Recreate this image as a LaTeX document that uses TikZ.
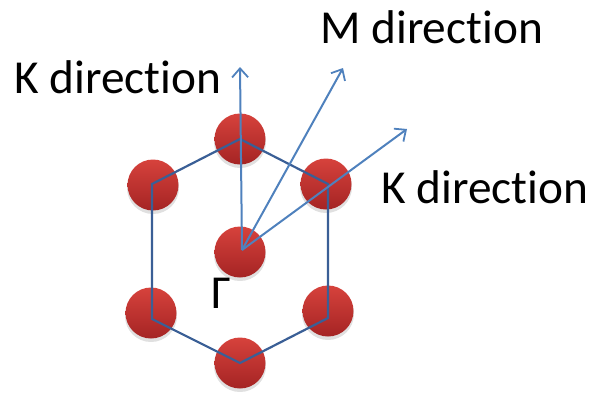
\documentclass[tikz,border=0pt]{standalone}
\usepackage{fontspec}
\setmainfont[RawFeature={-liga;-clig}]{Carlito}
\usetikzlibrary{arrows.meta}
\definecolor{ballhi}{RGB}{214,66,60}
\definecolor{balllo}{RGB}{165,36,36}
\definecolor{hexblue}{RGB}{58,95,150}
\definecolor{arrblue}{RGB}{79,129,189}
\tikzset{
  atom/.style={circle,minimum size=50bp,inner sep=0pt},
  hexline/.style={draw=hexblue,line width=2.2bp,line join=miter},
  dirarrow/.style={draw=arrblue,line width=2bp,-{Straight Barb[length=9bp,width=16bp,line width=1.8bp]}},
  lbl/.style={font=\fontsize{47.5}{56}\selectfont,inner sep=0pt,anchor=base west}
}
\begin{document}
\begin{tikzpicture}[x=1bp,y=-1bp]
\useasboundingbox (0,0) rectangle (597,392);
% atoms
\foreach \n/\x/\y in {t/240/139,ur/326/184,lr/328/311,b/240/363,ll/151/313,ul/153/185,c/240/252}{
  \fill[black,opacity=0.12] (\x,\y+3) circle (26bp);
  \shade[top color=ballhi,bottom color=balllo] (\x,\y) circle (25.5bp);
  \node[atom] (\n) at (\x,\y) {};
}
% hexagon
\coordinate (h1) at (240,139);
\coordinate (h2) at (328,184);
\coordinate (h3) at (328,318);
\coordinate (h4) at (240,363);
\coordinate (h5) at (152,319);
\coordinate (h6) at (152,184);
\draw[hexline] (h1) -- (h2) -- (h3) -- (h4) -- (h5) -- (h6) -- cycle;
% arrows
\coordinate (o) at (242,250);
\coordinate (kt) at (240,67);
\coordinate (mt) at (343,68);
\coordinate (kr) at (407,129);
\draw[dirarrow] (o) -- (kt);
\draw[dirarrow] (o) -- (mt);
\draw[dirarrow] (o) -- (kr);
% labels
\node[lbl] (kl) at (14,93) {K direction};
\node[lbl] (ml) at (320,43) {M direction};
\node[lbl] (krl) at (381,203) {K direction};
\node[lbl] (g) at (211,308) {Γ};
\end{tikzpicture}
\end{document}
